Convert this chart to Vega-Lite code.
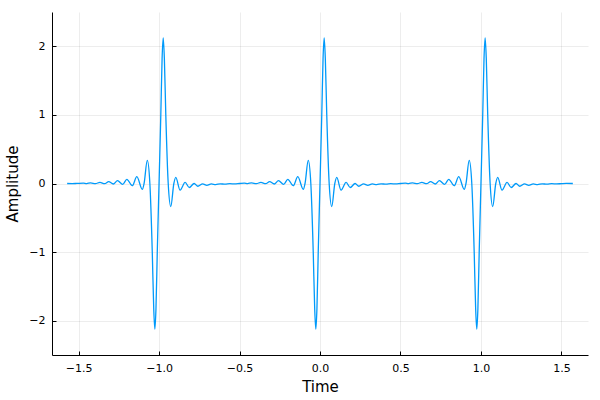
{
  "$schema": "https://vega.github.io/schema/vega-lite/v6.json",
  "width": 536,
  "height": 343,
  "autosize": "none",
  "padding": {"left": 52, "top": 12, "right": 12, "bottom": 45},
  "background": "white",
  "config": {
    "view": {"stroke": null},
    "font": "DejaVu Sans",
    "axis": {
      "domainColor": "#000000",
      "domainWidth": 1,
      "tickColor": "#000000",
      "tickSize": -4,
      "tickWidth": 1,
      "labelFont": "DejaVu Sans",
      "labelFontSize": 11,
      "labelColor": "#000000",
      "labelPadding": 11,
      "titleFont": "DejaVu Sans",
      "titleFontSize": 15,
      "titleFontWeight": "normal",
      "titleColor": "#000000",
      "gridColor": "#000000",
      "gridOpacity": 0.1,
      "gridWidth": 0.7
    }
  },
  "data": {
    "values": [
      {"t": -1.5708, "a": 0},
      {"t": -1.54, "a": -0.002},
      {"t": -1.51, "a": 0.001},
      {"t": -1.47, "a": 0.005},
      {"t": -1.45, "a": -0.001},
      {"t": -1.425, "a": 0.009},
      {"t": -1.395, "a": -0.002},
      {"t": -1.367, "a": 0.016},
      {"t": -1.338, "a": -0.003},
      {"t": -1.313, "a": 0.026},
      {"t": -1.284, "a": -0.007},
      {"t": -1.258, "a": 0.041},
      {"t": -1.226, "a": -0.012},
      {"t": -1.2, "a": 0.061},
      {"t": -1.166, "a": -0.032},
      {"t": -1.138, "a": 0.099},
      {"t": -1.104, "a": -0.085},
      {"t": -1.093, "a": 0},
      {"t": -1.073, "a": 0.335},
      {"t": -1.057, "a": 0},
      {"t": -1.042, "a": -1.0},
      {"t": -1.033, "a": -1.82},
      {"t": -1.026, "a": -2.12},
      {"t": -1.019, "a": -1.82},
      {"t": -1.011, "a": -1.0},
      {"t": -1.0, "a": 0},
      {"t": -0.989, "a": 1.0},
      {"t": -0.981, "a": 1.82},
      {"t": -0.974, "a": 2.12},
      {"t": -0.967, "a": 1.82},
      {"t": -0.958, "a": 1.0},
      {"t": -0.943, "a": 0},
      {"t": -0.927, "a": -0.335},
      {"t": -0.908, "a": 0},
      {"t": -0.896, "a": 0.088},
      {"t": -0.869, "a": -0.097},
      {"t": -0.838, "a": 0.015},
      {"t": -0.812, "a": -0.058},
      {"t": -0.782, "a": 0},
      {"t": -0.759, "a": -0.04},
      {"t": -0.729, "a": -0.006},
      {"t": -0.703, "a": -0.027},
      {"t": -0.675, "a": -0.006},
      {"t": -0.648, "a": -0.017},
      {"t": -0.62, "a": -0.004},
      {"t": -0.59, "a": -0.01},
      {"t": -0.56, "a": -0.002},
      {"t": -0.53, "a": -0.006},
      {"t": -0.5, "a": 0},
      {"t": -0.47, "a": 0.005},
      {"t": -0.45, "a": -0.001},
      {"t": -0.425, "a": 0.009},
      {"t": -0.395, "a": -0.002},
      {"t": -0.367, "a": 0.016},
      {"t": -0.338, "a": -0.003},
      {"t": -0.313, "a": 0.026},
      {"t": -0.284, "a": -0.007},
      {"t": -0.258, "a": 0.041},
      {"t": -0.226, "a": -0.012},
      {"t": -0.2, "a": 0.061},
      {"t": -0.166, "a": -0.032},
      {"t": -0.138, "a": 0.099},
      {"t": -0.104, "a": -0.085},
      {"t": -0.093, "a": 0},
      {"t": -0.073, "a": 0.335},
      {"t": -0.057, "a": 0},
      {"t": -0.042, "a": -1.0},
      {"t": -0.033, "a": -1.82},
      {"t": -0.026, "a": -2.12},
      {"t": -0.019, "a": -1.82},
      {"t": -0.011, "a": -1.0},
      {"t": 0.0, "a": 0},
      {"t": 0.011, "a": 1.0},
      {"t": 0.019, "a": 1.82},
      {"t": 0.026, "a": 2.12},
      {"t": 0.033, "a": 1.82},
      {"t": 0.042, "a": 1.0},
      {"t": 0.057, "a": 0},
      {"t": 0.073, "a": -0.335},
      {"t": 0.092, "a": 0},
      {"t": 0.104, "a": 0.088},
      {"t": 0.131, "a": -0.097},
      {"t": 0.162, "a": 0.015},
      {"t": 0.188, "a": -0.058},
      {"t": 0.218, "a": 0},
      {"t": 0.241, "a": -0.04},
      {"t": 0.271, "a": -0.006},
      {"t": 0.297, "a": -0.027},
      {"t": 0.325, "a": -0.006},
      {"t": 0.352, "a": -0.017},
      {"t": 0.38, "a": -0.004},
      {"t": 0.41, "a": -0.01},
      {"t": 0.44, "a": -0.002},
      {"t": 0.47, "a": -0.006},
      {"t": 0.5, "a": 0},
      {"t": 0.53, "a": 0.005},
      {"t": 0.55, "a": -0.001},
      {"t": 0.575, "a": 0.009},
      {"t": 0.605, "a": -0.002},
      {"t": 0.633, "a": 0.016},
      {"t": 0.662, "a": -0.003},
      {"t": 0.687, "a": 0.026},
      {"t": 0.716, "a": -0.007},
      {"t": 0.742, "a": 0.041},
      {"t": 0.774, "a": -0.012},
      {"t": 0.8, "a": 0.061},
      {"t": 0.834, "a": -0.032},
      {"t": 0.862, "a": 0.099},
      {"t": 0.896, "a": -0.085},
      {"t": 0.907, "a": 0},
      {"t": 0.927, "a": 0.335},
      {"t": 0.943, "a": 0},
      {"t": 0.958, "a": -1.0},
      {"t": 0.967, "a": -1.82},
      {"t": 0.974, "a": -2.12},
      {"t": 0.981, "a": -1.82},
      {"t": 0.989, "a": -1.0},
      {"t": 1.0, "a": 0},
      {"t": 1.011, "a": 1.0},
      {"t": 1.019, "a": 1.82},
      {"t": 1.026, "a": 2.12},
      {"t": 1.033, "a": 1.82},
      {"t": 1.042, "a": 1.0},
      {"t": 1.057, "a": 0},
      {"t": 1.073, "a": -0.335},
      {"t": 1.092, "a": 0},
      {"t": 1.104, "a": 0.088},
      {"t": 1.131, "a": -0.097},
      {"t": 1.162, "a": 0.015},
      {"t": 1.188, "a": -0.058},
      {"t": 1.218, "a": 0},
      {"t": 1.241, "a": -0.04},
      {"t": 1.271, "a": -0.006},
      {"t": 1.297, "a": -0.027},
      {"t": 1.325, "a": -0.006},
      {"t": 1.352, "a": -0.017},
      {"t": 1.38, "a": -0.004},
      {"t": 1.41, "a": -0.01},
      {"t": 1.44, "a": -0.002},
      {"t": 1.47, "a": -0.006},
      {"t": 1.5, "a": -0.002},
      {"t": 1.53, "a": 0.001},
      {"t": 1.5708, "a": 0}
    ]
  },
  "mark": {
    "type": "line",
    "color": "#009AFA",
    "strokeWidth": 1.3,
    "interpolate": "monotone"
  },
  "encoding": {
    "x": {
      "field": "t",
      "type": "quantitative",
      "scale": {"domain": [-1.665, 1.665], "nice": false, "zero": false},
      "axis": {
        "title": "Time",
        "values": [-1.5, -1, -0.5, 0, 0.5, 1, 1.5],
        "format": ".1f",
        "labelExpr": "replace(datum.label, '-', '−')",
        "titlePadding": 6
      }
    },
    "y": {
      "field": "a",
      "type": "quantitative",
      "scale": {"domain": [-2.495, 2.495], "nice": false, "zero": false},
      "axis": {
        "title": "Amplitude",
        "values": [-2, -1, 0, 1, 2],
        "format": "d",
        "labelExpr": "replace(datum.label, '-', '−')",
        "titlePadding": 8
      }
    }
  }
}
